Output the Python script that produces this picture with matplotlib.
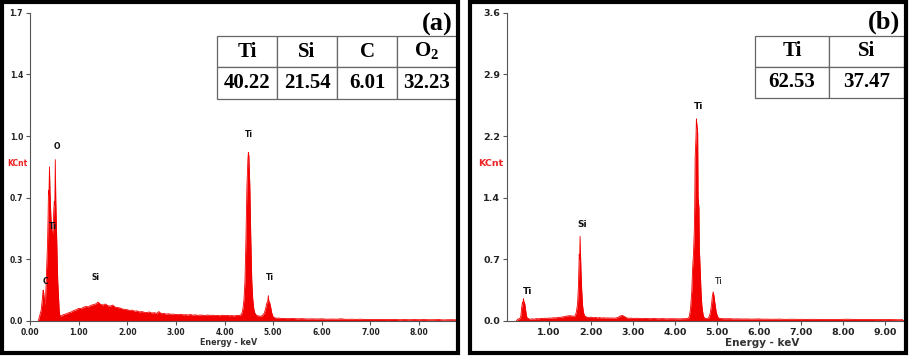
import numpy as np
import matplotlib.pyplot as plt
from matplotlib.patches import Rectangle

plt.rcParams['mathtext.fontset'] = 'custom'
plt.rcParams['mathtext.bf'] = 'Liberation Serif:bold'
plt.rcParams['mathtext.rm'] = 'Liberation Serif:bold'

# ---- panel (a) spectrum: energy (keV) / counts (KCnt)
energy_a = [0.17, 0.19, 0.21, 0.23, 0.25, 0.27, 0.28, 0.29, 0.30, 0.31, 0.32, 0.33,
            0.34, 0.35, 0.36, 0.37, 0.38, 0.39, 0.40, 0.41, 0.42, 0.43, 0.44, 0.45,
            0.46, 0.47, 0.48, 0.49, 0.50, 0.51, 0.52, 0.53, 0.54, 0.55, 0.56, 0.57,
            0.58, 0.59, 0.60, 0.61, 0.63,
            0.65, 0.70, 0.75, 0.80, 0.85, 0.90, 0.95, 1.00, 1.05, 1.10, 1.15, 1.20,
            1.25, 1.30, 1.35, 1.40, 1.45, 1.50, 1.55, 1.60, 1.65, 1.70, 1.75, 1.80,
            1.85, 1.90, 1.95, 2.00, 2.05, 2.10, 2.15, 2.20, 2.25, 2.30, 2.35, 2.40,
            2.45, 2.50, 2.55, 2.60, 2.65, 2.70, 2.75, 2.80, 2.85, 2.90, 2.95, 3.00,
            3.05, 3.10, 3.15, 3.20, 3.25, 3.30, 3.35, 3.40, 3.45, 3.50, 3.55, 3.60,
            3.65, 3.70, 3.75, 3.80, 3.85, 3.90, 3.95, 4.00, 4.05, 4.10, 4.15, 4.20,
            4.25, 4.30,
            4.34, 4.36, 4.38, 4.40, 4.42, 4.44, 4.46, 4.48, 4.49, 4.50, 4.52, 4.54,
            4.56, 4.58, 4.60, 4.62, 4.66, 4.70, 4.74,
            4.78, 4.82, 4.85, 4.87, 4.89, 4.90, 4.91, 4.93, 4.95, 4.97, 5.00, 5.05,
            5.10, 5.20, 5.30, 5.40, 5.50, 5.60, 5.70, 5.80, 5.90, 6.00, 6.10, 6.20,
            6.30, 6.40, 6.50, 6.60, 6.70, 6.80, 6.90, 7.00, 7.10, 7.20, 7.30, 7.40,
            7.50, 7.60, 7.70, 7.80, 7.90, 8.00, 8.10, 8.20, 8.30, 8.40, 8.50, 8.60,
            8.70, 8.80]
counts_a = [0.0, 0.02, 0.04, 0.06, 0.11, 0.17, 0.16, 0.13, 0.10, 0.09, 0.12, 0.20,
            0.28, 0.35, 0.42, 0.55, 0.72, 0.70, 0.85, 0.72, 0.64, 0.57, 0.52, 0.49,
            0.47, 0.50, 0.54, 0.62, 0.66, 0.64, 0.89, 0.66, 0.55, 0.44, 0.32, 0.22,
            0.17, 0.11, 0.06, 0.035, 0.025,
            0.030, 0.036, 0.040, 0.046, 0.050, 0.058, 0.062, 0.070, 0.068, 0.076, 0.080, 0.078,
            0.086, 0.090, 0.094, 0.104, 0.092, 0.088, 0.094, 0.084, 0.082, 0.088, 0.076, 0.074,
            0.072, 0.066, 0.064, 0.062, 0.058, 0.060, 0.054, 0.056, 0.050, 0.052, 0.048, 0.046,
            0.050, 0.044, 0.046, 0.042, 0.052, 0.040, 0.042, 0.038, 0.040, 0.037, 0.038, 0.036,
            0.035, 0.037, 0.034, 0.035, 0.033, 0.036, 0.032, 0.034, 0.031, 0.033, 0.032, 0.030,
            0.033, 0.031, 0.032, 0.030, 0.031, 0.029, 0.032, 0.030, 0.031, 0.029, 0.030, 0.028,
            0.031, 0.030,
            0.035, 0.045, 0.07, 0.12, 0.22, 0.45, 0.74, 0.89, 0.93, 0.91, 0.74, 0.45,
            0.22, 0.12, 0.07, 0.045, 0.03, 0.028, 0.026,
            0.030, 0.045, 0.075, 0.10, 0.11, 0.14, 0.11, 0.10, 0.075, 0.045, 0.022, 0.016,
            0.016, 0.014, 0.013, 0.014, 0.012, 0.013, 0.011, 0.012, 0.011, 0.012, 0.010, 0.011,
            0.010, 0.012, 0.009, 0.010, 0.009, 0.010, 0.008, 0.009, 0.008, 0.009, 0.008, 0.008,
            0.009, 0.007, 0.008, 0.007, 0.008, 0.007, 0.008, 0.007, 0.007, 0.008, 0.006, 0.007,
            0.007, 0.006]

# ---- panel (b) spectrum
energy_b = [0.22, 0.25, 0.28, 0.31, 0.33, 0.35, 0.37, 0.38, 0.39, 0.40, 0.42, 0.44,
            0.46, 0.48,
            0.55, 0.60, 0.65, 0.70, 0.75, 0.80, 0.85, 0.90, 0.95, 1.00, 1.05, 1.10,
            1.15, 1.20, 1.25, 1.30, 1.35, 1.40, 1.45, 1.50, 1.55, 1.60,
            1.62, 1.65, 1.68, 1.70, 1.72, 1.73, 1.74, 1.75, 1.76, 1.78, 1.80, 1.82,
            1.85, 1.90,
            1.95, 2.00, 2.05, 2.10, 2.15, 2.20, 2.25, 2.30, 2.35, 2.40, 2.45, 2.50,
            2.55, 2.60, 2.65, 2.70, 2.75, 2.80, 2.85, 2.90, 2.95, 3.00, 3.10, 3.20,
            3.30, 3.40, 3.50, 3.60, 3.70, 3.80, 3.90, 4.00, 4.10, 4.20, 4.30,
            4.34, 4.37, 4.40, 4.42, 4.44, 4.46, 4.47, 4.48, 4.50, 4.51, 4.52, 4.54,
            4.55, 4.57, 4.58, 4.60, 4.62, 4.64, 4.67, 4.70, 4.75,
            4.80, 4.84, 4.87, 4.89, 4.91, 4.93, 4.95, 4.98, 5.01, 5.05,
            5.10, 5.20, 5.30, 5.40, 5.50, 5.60, 5.70, 5.80, 5.90, 6.00, 6.10, 6.20,
            6.30, 6.40, 6.50, 6.60, 6.70, 6.80, 6.90, 7.00, 7.10, 7.20, 7.30, 7.40,
            7.50, 7.60, 7.70, 7.80, 7.90, 8.00, 8.10, 8.20, 8.30, 8.40, 8.50, 8.60,
            8.70, 8.80, 8.90, 9.00, 9.10, 9.20, 9.30, 9.45]
counts_b = [0.0, 0.02, 0.025, 0.03, 0.06, 0.16, 0.22, 0.20, 0.26, 0.23, 0.21, 0.14,
            0.07, 0.035,
            0.020, 0.025, 0.022, 0.028, 0.025, 0.030, 0.028, 0.032, 0.030, 0.035, 0.032, 0.038,
            0.036, 0.040, 0.042, 0.045, 0.050, 0.055, 0.060, 0.062, 0.058, 0.055,
            0.06, 0.10, 0.20, 0.40, 0.78, 0.72, 0.99, 0.80, 0.60, 0.35, 0.18, 0.10,
            0.06, 0.045,
            0.040, 0.045, 0.038, 0.042, 0.036, 0.040, 0.035, 0.038, 0.034, 0.036, 0.034, 0.035,
            0.033, 0.036, 0.045, 0.060, 0.065, 0.050, 0.036, 0.032, 0.034, 0.030, 0.032, 0.028,
            0.030, 0.027, 0.029, 0.026, 0.028, 0.025, 0.027, 0.026, 0.025, 0.027, 0.028,
            0.05, 0.14, 0.35, 0.62, 0.78, 1.05, 1.35, 1.90, 2.15, 2.36, 2.30, 2.20,
            1.45, 1.32, 0.85, 0.60, 0.35, 0.18, 0.07, 0.035, 0.028,
            0.035, 0.09, 0.19, 0.29, 0.34, 0.29, 0.21, 0.11, 0.055, 0.03,
            0.028, 0.026, 0.027, 0.024, 0.025, 0.023, 0.024, 0.022, 0.023, 0.024, 0.021, 0.022,
            0.020, 0.021, 0.022, 0.019, 0.020, 0.021, 0.019, 0.020, 0.018, 0.019, 0.020, 0.018,
            0.019, 0.018, 0.017, 0.019, 0.018, 0.020, 0.021, 0.019, 0.018, 0.017, 0.018, 0.017,
            0.018, 0.016, 0.017, 0.016, 0.017, 0.016, 0.015, 0.015]

# peak labels (text, energy, height)
labels_a = [('C', 0.31, 0.22), ('O', 0.55, 0.96), ('Ti', 0.48, 0.52),
            ('Si', 1.35, 0.24), ('Ti', 4.51, 1.03), ('Ti', 4.94, 0.24)]
labels_b = [('Ti', 0.49, 0.35), ('Si', 1.79, 1.13), ('Ti', 4.55, 2.51),
            ('Ti', 5.02, 0.46)]

# composition tables (wt %)
elements_a = ['Ti', 'Si', 'C', r'O$_{2}$']
values_a = ['40.22', '21.54', '6.01', '32.23']
elements_b = ['Ti', 'Si']
values_b = ['62.53', '37.47']

red = '#f20000'
axcol = '#555555'
txtcol = '#222222'
serif = ['Liberation Serif', 'DejaVu Serif']

fig = plt.figure(figsize=(9.14, 3.63), dpi=100)
W, H = 914.0, 363.0


def fx(px):
    return px / W


def fy(py):
    return 1 - py / H


ax1 = fig.add_axes([fx(30), fy(321), fx(427), (321 - 12.7) / H])
ax2 = fig.add_axes([fx(507), fy(321), fx(396), (321 - 12.7) / H])


def style(ax, ymax, xmax, xticks, fs):
    ax.set_xlim(0, xmax)
    ax.set_ylim(0, ymax)
    for s in ['top', 'right']:
        ax.spines[s].set_visible(False)
    for s in ['left', 'bottom']:
        ax.spines[s].set_color(axcol)
        ax.spines[s].set_linewidth(0.8)
    yt = np.linspace(0, ymax, 6)
    ax.set_yticks(yt)
    ax.set_yticklabels(['%.1f' % v for v in yt])
    ax.set_xticks(xticks)
    ax.set_xticklabels(['%.2f' % v for v in xticks])
    ax.tick_params(direction='out', length=3, width=0.8, color=axcol,
                   labelcolor=txtcol, labelsize=fs, pad=2)
    for lab in ax.get_xticklabels() + ax.get_yticklabels():
        lab.set_fontweight('bold')


ax1.fill_between(energy_a, counts_a, 0, color=red, lw=0)
ax1.plot(energy_a, counts_a, color=red, lw=0.6)
style(ax1, 1.7, 8.78, [0, 1, 2, 3, 4, 5, 6, 7, 8], 5.5)
for t, x, y in labels_a:
    ax1.text(x, y, t, ha='center', va='center', fontsize=5.5, fontweight='bold', color='#111111')

ax2.fill_between(energy_b, counts_b, 0, color=red, lw=0)
ax2.plot(energy_b, counts_b, color=red, lw=0.6)
style(ax2, 3.6, 9.43, [1, 2, 3, 4, 5, 6, 7, 8, 9], 6.8)
for t, x, y in labels_b:
    ax2.text(x, y, t, ha='center', va='center', fontsize=6.5,
             fontweight='bold' if (t, x) != ('Ti', 5.02) else 'normal', color='#111111')

ax1.text(-0.005, 0.512, 'KCnt', transform=ax1.transAxes, ha='right', va='center',
         fontsize=5.5, fontweight='bold', color='#ee2222')
ax2.text(-0.01, 0.512, 'KCnt', transform=ax2.transAxes, ha='right', va='center',
         fontsize=6.8, fontweight='bold', color='#ee2222')
ax1.text(0.464, -0.071, 'Energy - keV', transform=ax1.transAxes, ha='center', va='center',
         fontsize=5.8, fontweight='bold', color='#333333')
ax2.text(0.644, -0.071, 'Energy - keV', transform=ax2.transAxes, ha='center', va='center',
         fontsize=7.5, fontweight='bold', color='#333333')

ax1.text(0.99, 0.962, '(a)', transform=ax1.transAxes, ha='right', va='center',
         fontsize=19, fontweight='bold', family=serif)
ax2.text(0.992, 0.97, '(b)', transform=ax2.transAxes, ha='right', va='center',
         fontsize=19, fontweight='bold', family=serif)


def comp_table(ax, names, vals, bbox):
    tb = ax.table(cellText=[names, vals], bbox=bbox, cellLoc='center')
    tb.auto_set_font_size(False)
    for (r, c), cell in tb.get_celld().items():
        cell.set_edgecolor('#666666')
        cell.set_linewidth(0.9)
        cell.set_facecolor('white')
        cell.get_text().set_fontsize(15)
        cell.get_text().set_fontweight('bold')
        cell.get_text().set_family(serif)
    tb.set_zorder(5)
    return tb


comp_table(ax1, elements_a, values_a, [0.438, 0.72, 0.562, 0.205])
comp_table(ax2, elements_b, values_b, [0.626, 0.724, 0.376, 0.201])

# thick black frames around both panels
fig.patches.append(Rectangle((fx(2), fy(352.5)), fx(455.5), (352.5 - 2) / H,
                             transform=fig.transFigure, fill=False, ec='black', lw=3))
fig.patches.append(Rectangle((fx(469.5), fy(352.5)), fx(436), (352.5 - 2) / H,
                             transform=fig.transFigure, fill=False, ec='black', lw=3))

fig.savefig('out.png', dpi=100)
